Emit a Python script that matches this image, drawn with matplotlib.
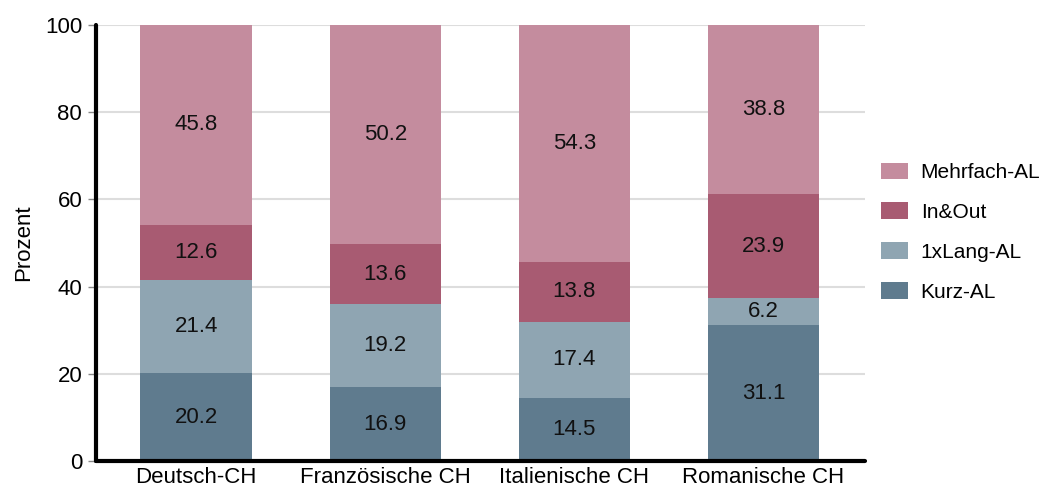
import matplotlib
matplotlib.use("Agg")
import matplotlib.pyplot as plt
import numpy as np

plt.rcParams['font.family'] = ['Liberation Sans', 'DejaVu Sans']

categories = ["Deutsch-CH", "Französische CH", "Italienische CH", "Romanische CH"]
series_names = ["Kurz-AL", "1xLang-AL", "In&Out", "Mehrfach-AL"]
kurz = [20.2, 16.9, 14.5, 31.1]
lang = [21.4, 19.2, 17.4, 6.2]
inout = [12.6, 13.6, 13.8, 23.9]
mehrfach = [45.8, 50.2, 54.3, 38.8]
colors = ["#5f7b8e", "#8fa5b2", "#a85b72", "#c48c9e"]

fig = plt.figure(figsize=(10.44, 4.9), dpi=100)
ax = fig.add_axes([0.092, 0.059, 0.737, 0.89])

x = np.arange(len(categories))
bottom = np.zeros(len(categories))
handles = []
for name, vals, c in zip(series_names, [kurz, lang, inout, mehrfach], colors):
    vals = np.array(vals)
    b = ax.bar(x, vals, 0.59, bottom=bottom, color=c, label=name, zorder=2)
    handles.append(b)
    for xi, v, bt in zip(x, vals, bottom):
        ax.text(xi, bt + v / 2, f"{v:.1f}", ha='center', va='center', fontsize=16, color='#111111', zorder=3)
    bottom += vals

ax.set_xlim(-0.53, 3.54)
ax.set_ylim(0, 100)
ax.set_yticks([0, 20, 40, 60, 80, 100])
ax.set_xticks(x)
ax.set_xticklabels(categories, fontsize=16)
ax.tick_params(axis='y', labelsize=16, length=6, color='#888888', width=1, pad=4)
ax.tick_params(axis='x', length=0, pad=4)
ax.set_ylabel("Prozent", fontsize=16, labelpad=8)
ax.yaxis.grid(True, color='#dddddd', linewidth=1.5, zorder=0)
ax.set_axisbelow(True)
for s in ['top', 'right']:
    ax.spines[s].set_visible(False)
for s in ['left', 'bottom']:
    ax.spines[s].set_linewidth(3)
    ax.spines[s].set_color('black')
    ax.spines[s].set_capstyle('round')

leg = ax.legend(handles[::-1], series_names[::-1], loc='center left', bbox_to_anchor=(1.009, 0.525),
                borderaxespad=0, frameon=False, fontsize=15, handlelength=1.3, handleheight=0.87,
                labelspacing=0.97, handletextpad=0.62)

fig.savefig("out.png", dpi=100)
